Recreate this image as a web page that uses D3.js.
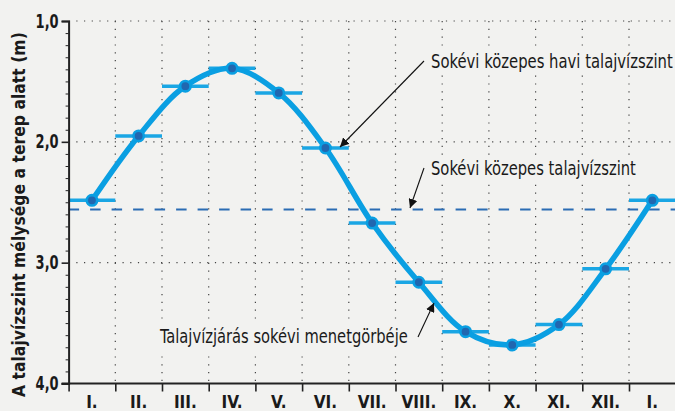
<!DOCTYPE html>
<html><head><meta charset="utf-8">
<script src="https://cdn.jsdelivr.net/npm/d3@7"></script>
<style>
html,body{margin:0;padding:0;background:#f2f2f0;}
svg{display:block;}
text{font-family:"DejaVu Sans Condensed","DejaVu Sans",sans-serif;font-stretch:condensed;}
</style></head><body>
<script>
const months = ["I.","II.","III.","IV.","V.","VI.","VII.","VIII.","IX.","X.","XI.","XII.","I."];
const depths = [2.484,1.951,1.539,1.392,1.595,2.051,2.672,3.162,3.571,3.681,3.512,3.051,2.484];
const meanLevel = 2.56;
const yTicks = [1,2,3,4];
const yTickLabels = ["1,0","2,0","3,0","4,0"];
const yTitle = "A talajvízszint mélysége a terep alatt (m)";
const annotations = [
  {text:"Sokévi közepes havi talajvízszint"},
  {text:"Sokévi közepes talajvízszint"},
  {text:"Talajvízjárás sokévi menetgörbéje"}
];

const W = 675, H = 411;
const BG = "#f2f2f0";
const svg = d3.select("body").append("svg").attr("width",W).attr("height",H);
svg.append("rect").attr("width",W).attr("height",H).attr("fill",BG);

const x = d3.scaleLinear().domain([0, months.length]).range([68.6, 675.7]);
const y = d3.scaleLinear().domain([1,4]).range([21, 383.5]);

const gridColor = "#444";
svg.append("g").selectAll("line").data(d3.range(1, months.length)).join("line")
  .attr("x1",d=>x(d)).attr("x2",d=>x(d)).attr("y1",y(1)).attr("y2",y(4))
  .attr("stroke",gridColor).attr("stroke-width",1.2).attr("stroke-dasharray","1.2,6.6");
svg.append("g").selectAll("line").data([1,2,3]).join("line")
  .attr("x1",x(0)).attr("x2",W).attr("y1",d=>y(d)).attr("y2",d=>y(d))
  .attr("stroke",gridColor).attr("stroke-width",1.2).attr("stroke-dasharray","1.2,6.5");

svg.append("line").attr("x1",x(0)).attr("x2",W).attr("y1",y(meanLevel)).attr("y2",y(meanLevel))
  .attr("stroke","#2b6cb3").attr("stroke-width",1.8).attr("stroke-dasharray","10.5,11");

// horizontally condensed text: fit to a width by scaling
function condensed(parent, str, tx, ty, len, size, weight, anchor, rotate){
  const g = parent.append("g");
  const t = g.append("text").attr("font-size",size).attr("font-weight",weight||"normal")
    .attr("fill","#1a1a1a").text(str);
  const nat = t.node().getComputedTextLength();
  const sx = len / nat;
  const off = anchor==="middle" ? -len/2 : (anchor==="end" ? -len : 0);
  g.attr("transform",`translate(${tx},${ty})${rotate?` rotate(${rotate})`:""} translate(${off},0) scale(${sx},1)`);
  return g;
}

const annG = svg.append("g");
function annText(a, tx, ty, len){
  annG.append("rect").attr("fill",BG).attr("x",tx-3).attr("y",ty-19).attr("width",len+6).attr("height",26);
  condensed(annG, a.text, tx, ty, len, 20, "normal", "start");
}
annText(annotations[0], 431, 68, 242);
annText(annotations[1], 431, 174.5, 205);
annText(annotations[2], 160, 343, 248);

svg.append("g").selectAll("line").data(depths).join("line")
  .attr("x1",(d,i)=>x(i)).attr("x2",(d,i)=>x(i+1)).attr("y1",d=>y(d)).attr("y2",d=>y(d))
  .attr("stroke","#1aa6e4").attr("stroke-width",3.5);

const line = d3.line().x((d,i)=>x(i+0.5)).y(d=>y(d)).curve(d3.curveCatmullRom.alpha(0.5));
svg.append("path").datum(depths).attr("d",line).attr("fill","none")
  .attr("stroke","#0a9fe2").attr("stroke-width",5.5).attr("stroke-linecap","round");

svg.append("g").selectAll("circle").data(depths).join("circle")
  .attr("cx",(d,i)=>x(i+0.5)).attr("cy",d=>y(d)).attr("r",5.2)
  .attr("fill","#2167b0").attr("stroke","#0a9fe2").attr("stroke-width",2.6);

const yAxis = d3.axisLeft(y).tickValues(yTicks).tickSize(7).tickFormat("");
const gy = svg.append("g").attr("transform",`translate(${x(0)},0)`).call(yAxis);
gy.select(".domain").attr("stroke","#222").attr("stroke-width",2);
gy.selectAll(".tick line").attr("stroke","#222").attr("stroke-width",1.6);
yTicks.forEach((v,i)=>condensed(svg, yTickLabels[i], x(0)-10, y(v)+6.5, 23, 19, "bold", "end"));
const minor = d3.axisLeft(y).tickValues(d3.range(1.1,4,0.1).filter(v=>Math.abs(v-Math.round(v))>0.01)).tickSize(3).tickFormat("");
const gm = svg.append("g").attr("transform",`translate(${x(0)},0)`).call(minor);
gm.select(".domain").remove();
gm.selectAll(".tick line").attr("stroke","#222").attr("stroke-width",1);

svg.append("line").attr("x1",x(0)-7).attr("x2",W).attr("y1",y(4)).attr("y2",y(4))
  .attr("stroke","#222").attr("stroke-width",2);
const xTicks = d3.axisBottom(x).tickValues(d3.range(0, months.length+1)).tickSize(8).tickFormat("");
const gx = svg.append("g").attr("transform",`translate(0,${y(4)})`).call(xTicks);
gx.select(".domain").remove();
gx.selectAll(".tick line").attr("stroke","#222").attr("stroke-width",1.6);
svg.append("g").selectAll("text").data(months).join("text")
  .attr("x",(d,i)=>x(i+0.5)).attr("y",408).attr("text-anchor","middle")
  .attr("font-size",17).attr("font-weight","bold").attr("fill","#1a1a1a").text(d=>d);

condensed(svg, yTitle, 25, 214.5, 365, 17, "bold", "middle", -90);

const defs = svg.append("defs");
defs.append("marker").attr("id","arr").attr("viewBox","0 0 10 10").attr("refX",10).attr("refY",5)
  .attr("markerWidth",9).attr("markerHeight",9).attr("markerUnits","userSpaceOnUse").attr("orient","auto")
  .append("path").attr("d","M0,0 L10,5 L0,10 Z").attr("fill","#111");
function arrow(ax1, ay1, ax2, ay2){
  svg.append("line").attr("x1",ax1).attr("y1",ay1).attr("x2",ax2).attr("y2",ay2)
    .attr("stroke","#111").attr("stroke-width",1.1).attr("marker-end","url(#arr)");
}
arrow(424, 61, 340, 147);
arrow(424, 168, 410, 208);
arrow(418, 337, 434, 303);
</script>
</body></html>
